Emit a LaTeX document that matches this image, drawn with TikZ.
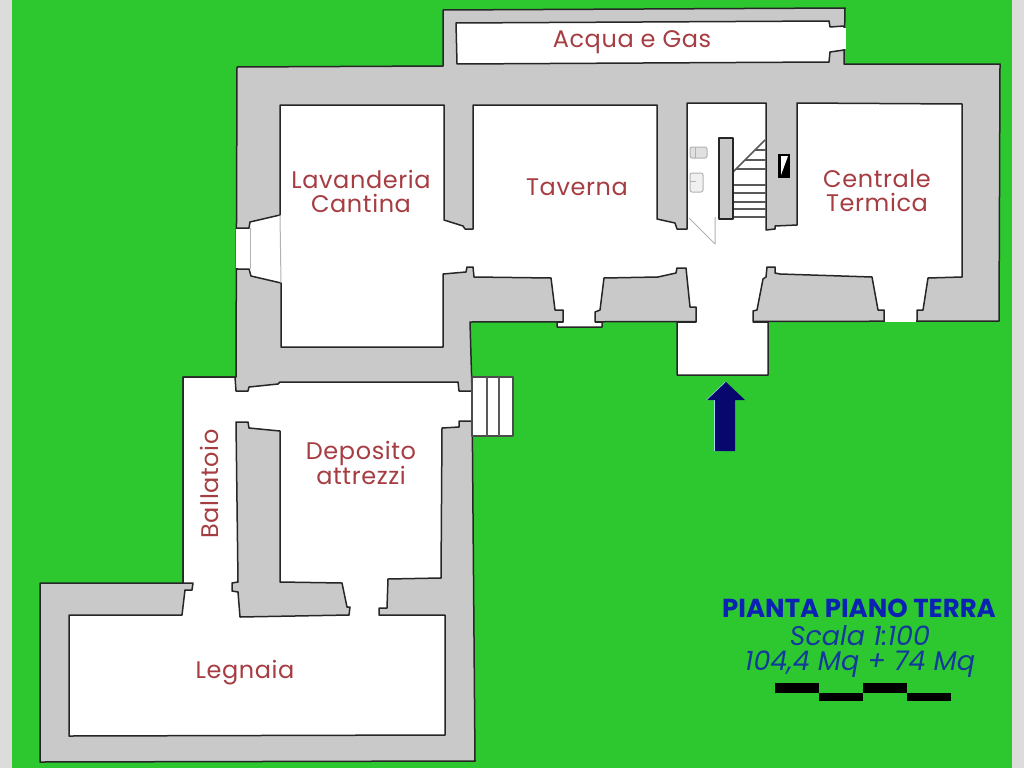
\documentclass[tikz,border=0pt]{standalone}
\usepackage{fontspec}
\setmainfont{Poppins}
\definecolor{lawn}{HTML}{2DC830}
\definecolor{wallgray}{HTML}{C9C9C9}
\definecolor{stripgray}{HTML}{DCDCDC}
\definecolor{labelred}{HTML}{A53D42}
\definecolor{titleblue}{HTML}{0B22B4}
\definecolor{noteblue}{HTML}{14399C}
\definecolor{arrownavy}{HTML}{07076E}

\begin{document}
\begin{tikzpicture}[
            x = 1pt,
            y = -1pt, % pixel coordinates of the plan
            line join = round
        ]

        \tikzstyle{wall}=[draw = black!85, line width = 1.5pt, fill = wallgray]
        \tikzstyle{room}=[draw = black!85, line width = 1.5pt, fill = white]
        \tikzstyle{opening}=[fill = white, draw = none]
        \tikzstyle{tread}=[draw = black!65, line width = 1.5pt]
        \tikzstyle{fixture}=[draw = black!30, line width = 1pt]
        \tikzstyle{roomlabel}=[text = labelred, font = \fontsize{24}{24}\selectfont\addfontfeature{LetterSpace=2.5}, align = center, inner sep = 0pt]
        \tikzstyle{notelabel}=[text = noteblue, font = \fontsize{27}{27}\selectfont\itshape, inner sep = 0pt]

        % background
        \useasboundingbox (0,0) rectangle (1024,768);
        \fill[stripgray] (0,0) rectangle (1024,768);
        \fill[lawn] (12,0) rectangle (1012,768);

        % outer walls
        \draw[wall] (237,67) -- (443,66) -- (443,10) -- (845,8) -- (844,64) -- (1000,64) -- (999,321)
            -- (470,322) -- (472,391) -- (475,761) -- (40,762) -- (40,583) -- (183,583)
            -- (183,377) -- (236,377) -- cycle;

        % water and gas room
        \draw[room] (456,23) -- (829,21) -- (830,27) -- (844,26) -- (844,50) -- (830,52) -- (829,62) -- (457,64) -- cycle;

        % upper rooms
        \draw[room] (280,105) -- (444,105) -- (444,220) -- (463,226) -- (465,229) -- (473,229) -- (473,105)
            -- (657,105) -- (657,219) -- (675,223) -- (677,229) -- (687,229) -- (687,103) -- (766,103)
            -- (766,230) -- (775,229) -- (775,226) -- (797,225) -- (797,103) -- (962,104) -- (962,277)
            -- (928,278) -- (923,310) -- (917,310) -- (917,321) -- (884,321) -- (884,310) -- (878,310)
            -- (872,277) -- (780,274) -- (775,273) -- (775,267) -- (767,267) -- (766,277) -- (763,279)
            -- (757,310) -- (753,311) -- (753,322) -- (768,322) -- (768,375) -- (677,375) -- (677,322)
            -- (696,322) -- (696,307) -- (690,307) -- (686,268) -- (677,268) -- (676,273) -- (658,277)
            -- (604,278) -- (600,310) -- (595,312) -- (595,322) -- (602,322) -- (602,327) -- (557,327)
            -- (557,322) -- (563,322) -- (563,310) -- (555,310) -- (551,278) -- (474,277) -- (473,267)
            -- (467,267) -- (466,272) -- (443,274) -- (443,347) -- (281,347) -- (281,283) -- (251,276)
            -- (249,269) -- (237,269) -- (237,228) -- (249,228) -- (250,222) -- (280,215) -- cycle;

        % lower rooms
        \draw[room] (183,377) -- (235,377) -- (236,391) -- (248,391) -- (249,387) -- (278,384) -- (280,382)
            -- (458,382) -- (459,391) -- (472,391) -- (472,421) -- (459,421) -- (459,427) -- (442,428)
            -- (441,578) -- (388,579) -- (387,608) -- (379,608) -- (379,615) -- (445,615) -- (445,735)
            -- (69,736) -- (69,615) -- (182,615) -- (185,590) -- (192,590) -- (193,583) -- (183,583) -- cycle;

        % wall between ballatoio and deposito
        \draw[wall] (236,422) -- (248,422) -- (249,428) -- (280,431) -- (280,582) -- (342,583) -- (347,607)
            -- (350,607) -- (349,615) -- (240,617) -- (238,592) -- (232,591) -- (232,583) -- (238,582) -- cycle;

        % windows
        \fill[opening] (238,229) rectangle (236,268);
        \fill[opening] (885,312) rectangle (916,322);
        \fill[opening] (840,28) rectangle (846,49);
        \draw[fixture] (280,215) -- (281,283);
        \draw[fixture] (250,228) -- (250,269);

        % outside steps
        \draw[room, draw = black!70] (472,377) rectangle (513,436);
        \draw[tread] (487,377) -- (487,436);
        \draw[tread] (499,377) -- (499,436);

        % staircase
        \fill[white] (734,139) rectangle (765,218);
        \foreach \ya/\xa in {217/733,209/733,202/733,193/733,185/733,169/736,160/745,150/755}
            \draw[tread] (\xa,\ya) -- (766,\ya);
        \draw[tread] (733,172) -- (765,140);
        \draw[room, fill = wallgray] (719,138) rectangle (733,219);

        % door and bathroom fittings
        \draw[fixture] (689,218) -- (715,244) -- (715,217);
        \draw[fixture, fill = black!12, rounded corners = 2pt] (690,147) rectangle (707,158);
        \draw[fixture] (695,147) -- (695,158);
        \draw[fixture, fill = black!6, rounded corners = 2pt] (690,173) rectangle (703,192);
        \draw[fixture] (690,181) -- (696,181);

        % flue in the wall
        \fill[black] (778,154) rectangle (790,178);
        \fill[white] (781,156) -- (788,156) -- (781,175) -- cycle;

        % entrance arrow
        \fill[black!10!cyan!40] (725,382) -- (706,400) -- (714,400) -- (714,451) -- (725,451) -- cycle;
        \fill[arrownavy] (726,382) -- (745,400) -- (735,400) -- (735,451) -- (715,451) -- (715,400) -- (707,400) -- cycle;

        % room names
        \node[roomlabel] (acqua) at (632,42) {Acqua e Gas};
        \node[roomlabel] (lavanderia) at (361,191) {Lavanderia\\Cantina};
        \node[roomlabel] (taverna) at (577,187) {Taverna};
        \node[roomlabel] (centrale) at (877,191) {Centrale\\Termica};
        \node[roomlabel] (deposito) at (361,463) {Deposito\\attrezzi};
        \node[roomlabel, rotate = 90] (ballatoio) at (209,484) {Ballatoio};
        \node[roomlabel] (legnaia) at (245,673) {Legnaia};

        % title block
        \node[text = titleblue, font = \fontsize{26}{26}\selectfont\bfseries, inner sep = 0pt] (titolo) at (859,608) {PIANTA PIANO TERRA};
        \node[notelabel] (scala) at (860,636) {Scala 1:100};
        \node[notelabel] (area) at (860,664) {104,4 Mq + 74 Mq};

        % scale bar
        \fill[black] (775,683) rectangle (819,693);
        \fill[black] (819,693) rectangle (863,701);
        \fill[black] (863,683) rectangle (907,693);
        \fill[black] (907,693) rectangle (951,701);

    \end{tikzpicture}
\end{document}
